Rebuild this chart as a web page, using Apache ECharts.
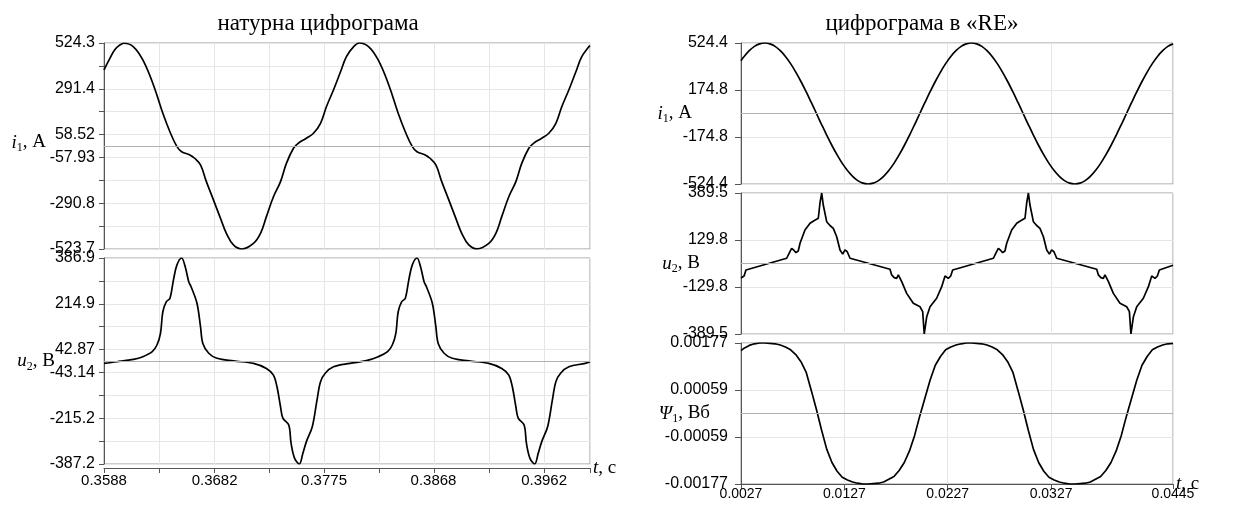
<!DOCTYPE html>
<html><head><meta charset="utf-8">
<script src="https://cdn.jsdelivr.net/npm/echarts@6/dist/echarts.min.js"></script>
<style>html,body{margin:0;padding:0;background:#fff}#c{width:1245px;height:505px}</style>
</head><body><div id="c"></div>
<script>
// ---------- natural oscillogram (left) ----------
const tI1Nat = [0.3588,0.3593,0.3597,0.3601,0.3605,0.3613,0.3621,0.3630,0.3638,0.3644,0.3650,0.3654,0.3661,0.3665,0.3670,0.3675,0.3681,0.3687,0.3692,0.3698,0.3705,0.3715,0.3721,0.3726,0.3732,0.3738,0.3743,0.3749,0.3753,0.3760,0.3766,0.3772,0.3777,0.3783,0.3789,0.3794,0.3800,0.3805,0.3813,0.3821,0.3830,0.3838,0.3844,0.3850,0.3854,0.3861,0.3865,0.3870,0.3875,0.3881,0.3887,0.3892,0.3898,0.3905,0.3915,0.3921,0.3926,0.3932,0.3938,0.3943,0.3949,0.3953,0.3960,0.3966,0.3972,0.3977,0.3983,0.3989,0.3994,0.4000,0.4001];
const i1Nat = [388,446,489,512,523,505,438,311,167,73,-3,-29,-45,-62,-96,-181,-274,-368,-444,-503,-523.7,-495,-444,-359,-258,-181,-88,-11,14,40,65,116,200,285,378,455,505,524.3,505,438,311,167,73,-3,-29,-45,-62,-96,-181,-274,-368,-444,-503,-523,-495,-444,-359,-258,-181,-88,-11,14,40,65,116,200,285,378,455,505,510];

const tU2Nat = [0.3588,0.3599,0.3613,0.3621,0.3629,0.3633,0.3636,0.3638,0.3641,0.3644,0.3647,0.3650,0.3654,0.3657,0.3660,0.3662,0.3667,0.3670,0.3672,0.3677,0.3684,0.3698,0.3715,0.3726,0.3732,0.3735,0.3738,0.3740,0.3745,0.3747,0.3750,0.3754,0.3757,0.3760,0.3765,0.3769,0.3772,0.3776,0.3783,0.3797,0.3811,0.3821,0.3829,0.3833,0.3836,0.3838,0.3841,0.3844,0.3847,0.3850,0.3854,0.3857,0.3860,0.3862,0.3867,0.3870,0.3872,0.3877,0.3884,0.3898,0.3915,0.3926,0.3932,0.3935,0.3938,0.3940,0.3945,0.3947,0.3950,0.3954,0.3957,0.3960,0.3965,0.3969,0.3972,0.3976,0.3983,0.3997,0.4001];
const u2Nat = [-9,-3,6,16,35,60,104,185,223,235,304,361,386.9,354,298,279,217,129,66,29,10,0,-9,-28,-53,-97,-172,-215,-241,-310,-366,-387.2,-347,-303,-247,-147,-78,-46,-22,-9,1,16,35,60,104,185,223,235,304,361,386.9,354,298,279,217,129,66,29,10,0,-9,-28,-53,-97,-172,-215,-241,-310,-366,-387.2,-347,-303,-247,-147,-78,-46,-22,-9,-3];

// ---------- "RE" oscillogram (right) ----------
const tRE = [0.0027,0.0030,0.0035,0.0040,0.0045,0.0050,0.0055,0.0060,0.0065,0.0070,0.0075,0.0080,0.0085,0.0090,0.0095,0.0100,0.0105,0.0110,0.0115,0.0120,0.0125,0.0130,0.0135,0.0140,0.0145,0.0150,0.0155,0.0160,0.0165,0.0170,0.0175,0.0180,0.0185,0.0190,0.0195,0.0200,0.0205,0.0210,0.0215,0.0220,0.0225,0.0230,0.0235,0.0240,0.0245,0.0250,0.0255,0.0260,0.0265,0.0270,0.0275,0.0280,0.0285,0.0290,0.0295,0.0300,0.0305,0.0310,0.0315,0.0320,0.0325,0.0330,0.0335,0.0340,0.0345,0.0350,0.0355,0.0360,0.0365,0.0370,0.0375,0.0380,0.0385,0.0390,0.0395,0.0400,0.0405,0.0410,0.0415,0.0420,0.0425,0.0430,0.0435,0.0440,0.0445];
const i1RE = [393,424,467,499,518,524.4,518,499,467,424,371,308,238,162,82,0,-82,-162,-238,-308,-371,-424,-467,-499,-518,-524.4,-518,-499,-467,-424,-371,-308,-238,-162,-82,0,82,162,238,308,371,424,467,499,518,524.4,518,499,467,424,371,308,238,162,82,0,-82,-162,-238,-308,-371,-424,-467,-499,-518,-524.4,-518,-499,-467,-424,-371,-308,-238,-162,-82,0,82,162,238,308,371,424,467,499,518];
const psiRE = [0.00158,0.00164,0.00171,0.00175,0.00177,0.00177,0.00176,0.00175,0.00172,0.00167,0.00160,0.00148,0.00130,0.00104,0.00058,0.00010,-0.00042,-0.00090,-0.00123,-0.00145,-0.00160,-0.00167,-0.00172,-0.00175,-0.00177,-0.00177,-0.00176,-0.00175,-0.00172,-0.00165,-0.00158,-0.00143,-0.00123,-0.00094,-0.00055,-0.00006,0.00039,0.00084,0.00121,0.00143,0.00160,0.00167,0.00172,0.00175,0.00177,0.00177,0.00176,0.00175,0.00172,0.00167,0.00160,0.00148,0.00130,0.00104,0.00058,0.00010,-0.00042,-0.00090,-0.00123,-0.00145,-0.00160,-0.00167,-0.00172,-0.00175,-0.00177,-0.00177,-0.00176,-0.00175,-0.00172,-0.00165,-0.00158,-0.00143,-0.00123,-0.00094,-0.00055,-0.00006,0.00039,0.00084,0.00121,0.00143,0.00160,0.00167,0.00172,0.00175,0.00176];

const tU2RE = [0.0027,0.0030,0.00318,0.00712,0.00734,0.0076,0.00783,0.00802,0.00824,0.00841,0.00889,0.00938,0.00976,0.01018,0.01034,0.01051,0.01066,0.01099,0.01131,0.01163,0.01196,0.01228,0.01254,0.01276,0.01298,0.01325,0.01712,0.01728,0.01752,0.01776,0.01792,0.01825,0.01873,0.01937,0.02002,0.02028,0.02043,0.02067,0.02099,0.02163,0.02212,0.02244,0.02276,0.02299,0.02318,0.02712,0.02734,0.0276,0.02783,0.02802,0.02824,0.02841,0.02889,0.02938,0.02976,0.03018,0.03034,0.03051,0.03066,0.03099,0.03131,0.03163,0.03196,0.03228,0.03254,0.03276,0.03298,0.03325,0.03712,0.03728,0.03752,0.03776,0.03792,0.03825,0.03873,0.03937,0.04002,0.04028,0.04043,0.04067,0.04099,0.04163,0.04212,0.04244,0.04276,0.04299,0.04318,0.0445];
const u2RE = [-80,-69,-36,29,55,84,72,60,69,112,185,222,236,250,333,389.5,323,231,210,194,148,75,52,75,65,29,-32,-63,-78,-82,-63,-100,-165,-220,-239,-266,-389.5,-294,-239,-192,-128,-69,-82,-69,-36,29,55,84,72,60,69,112,185,222,236,250,333,389.5,323,231,210,194,148,75,52,75,65,29,-32,-63,-78,-82,-63,-100,-165,-220,-239,-266,-389.5,-294,-239,-192,-128,-69,-82,-69,-36,-10];

// ---------- tick labels ----------
const natXTicks = [0.3588, 0.3682, 0.3775, 0.3868, 0.3962];
const natXRange = [0.3588, 0.4001];
const natI1Ticks = [524.3, 291.4, 58.52, -57.93, -290.8, -523.7];
const natU2Ticks = [386.9, 214.9, 42.87, -43.14, -215.2, -387.2];
const reXTicks = [0.0027, 0.0127, 0.0227, 0.0327, 0.0445];
const reI1Ticks = [524.4, 174.8, -174.8, -524.4];
const reU2Ticks = [389.5, 129.8, -129.8, -389.5];
const rePsiTicks = [0.00177, 0.00059, -0.00059, -0.00177];

// evenly divided grid positions between extreme labels
function steps(a, b, n) { const r = []; for (let k = 0; k <= n; k++) r.push(a + (b - a) * k / n); return r; }
const natXGrid = steps(natXTicks[0], natXTicks[4], 8).concat([natXRange[1]]);
const natI1Grid = steps(-523.7, 524.3, 9);
const natU2Grid = steps(-387.2, 386.9, 9);

const pairs = (t, v) => t.map((x, i) => [x, v[i]]);
const labelFont = 'Liberation Sans';
const serif = 'Liberation Serif';

const grids = [
  {left: 104, top: 43, width: 486, height: 206},
  {left: 104, top: 258, width: 486, height: 206},
  {left: 741, top: 43, width: 432, height: 141},
  {left: 741, top: 193, width: 432, height: 141},
  {left: 741, top: 343, width: 432, height: 141}
].map(g => Object.assign(g, {show: true, borderColor: '#9a9a9a', borderWidth: 1, backgroundColor: 'transparent', containLabel: false, outerBoundsMode: 'none'}));

const rich = {
  v: {fontFamily: serif, fontStyle: 'italic', fontSize: 19, lineHeight: 23, color: '#000'},
  s: {fontFamily: serif, fontSize: 12, lineHeight: 14, verticalAlign: 'bottom', color: '#000'},
  n: {fontFamily: serif, fontSize: 19, lineHeight: 23, color: '#000'}
};

function xAx(gi, range, grid, labels, showLabels, offset, fs, margin) {
  return {
    type: 'value', gridIndex: gi, min: range[0], max: range[1], offset: offset || 0,
    axisLine: {show: showLabels, onZero: false, lineStyle: {color: '#555', width: 1}},
    axisTick: {show: showLabels, length: 5, lineStyle: {color: '#555'}, customValues: grid},
    axisLabel: {show: showLabels, customValues: labels, formatter: v => String(v), color: '#000', fontFamily: labelFont, fontSize: fs || 15, margin: margin || 5, showMinLabel: true, showMaxLabel: true, hideOverlap: false},
    splitLine: {show: true, lineStyle: {color: '#e6e6e6', width: 1}},
    name: showLabels ? '{v|t}{n|, c}' : '', nameLocation: 'end', nameGap: 3, nameMoveOverlap: false,
    nameTextStyle: {rich: rich, verticalAlign: 'middle'}
  };
}
function yAx(gi, labels, grid, name, gap, tickLen, margin, fs, pad) {
  return {
    type: 'value', gridIndex: gi, min: labels[labels.length - 1], max: labels[0],
    axisLine: {show: true, onZero: false, lineStyle: {color: '#555', width: 1}},
    axisTick: {show: true, length: tickLen, lineStyle: {color: '#555'}, customValues: grid},
    axisLabel: {customValues: labels, formatter: v => String(v), color: '#000', fontFamily: labelFont, fontSize: fs, margin: margin, showMinLabel: true, showMaxLabel: true, hideOverlap: false},
    splitLine: {show: true, lineStyle: {color: '#e6e6e6', width: 1}},
    name: name, nameLocation: 'middle', nameRotate: 0, nameGap: gap, nameMoveOverlap: false,
    nameTextStyle: {rich: rich, padding: pad || 0}
  };
}
const zeroLine = {silent: true, symbol: ['none', 'none'], label: {show: false}, animation: false,
  lineStyle: {color: '#b0b0b0', width: 1, type: 'solid'}, data: [{yAxis: 0}]};
function ser(xi, data, smooth) {
  return {type: 'line', xAxisIndex: xi, yAxisIndex: xi, data: data, showSymbol: false, symbol: 'none',
    smooth: smooth, lineStyle: {color: '#000', width: 1.7}, markLine: zeroLine, z: 3, animation: false};
}

const option = {
  animation: false,
  backgroundColor: '#fff',
  grid: grids,
  xAxis: [
    xAx(0, natXRange, natXGrid, natXTicks, false),
    xAx(1, natXRange, natXGrid, natXTicks, true, 4, 15, 5),
    xAx(2, [reXTicks[0], reXTicks[4]], reXTicks, reXTicks, false),
    xAx(3, [reXTicks[0], reXTicks[4]], reXTicks, reXTicks, false),
    xAx(4, [reXTicks[0], reXTicks[4]], reXTicks, reXTicks, true, 0, 14, 3)
  ],
  yAxis: [
    yAx(0, natI1Ticks, natI1Grid, '{v|i}{s|1}{n|, A}', 58, 5, 9, 16, [0, 0, 7, 0]),
    yAx(1, natU2Ticks, natU2Grid, '{v|u}{s|2}{n|, B}', 49, 5, 9, 16),
    yAx(2, reI1Ticks, reI1Ticks, '{v|i}{s|1}{n|, A}', 49, 6, 13, 16),
    yAx(3, reU2Ticks, reU2Ticks, '{v|u}{s|2}{n|, B}', 41, 6, 13, 16),
    yAx(4, rePsiTicks, rePsiTicks, '{v|Ψ}{s|1}{n|, Вб}', 31, 6, 13, 16)
  ],
  series: [
    ser(0, pairs(tI1Nat, i1Nat), 0.4),
    ser(1, pairs(tU2Nat, u2Nat), 0.35),
    ser(2, pairs(tRE, i1RE), 0.4),
    ser(3, pairs(tU2RE, u2RE), false),
    ser(4, pairs(tRE, psiRE), false)
  ],
  graphic: [
    {type: 'text', x: 318, y: 24, style: {text: 'натурна цифрограма', fill: '#000', font: '23px "Liberation Serif"', align: 'center', verticalAlign: 'middle'}},
    {type: 'text', x: 922, y: 24, style: {text: 'цифрограма в «RE»', fill: '#000', font: '23px "Liberation Serif"', align: 'center', verticalAlign: 'middle'}}
  ]
};
const chart = echarts.init(document.getElementById('c'), null, {renderer: 'canvas'});
chart.setOption(option);
</script></body></html>
